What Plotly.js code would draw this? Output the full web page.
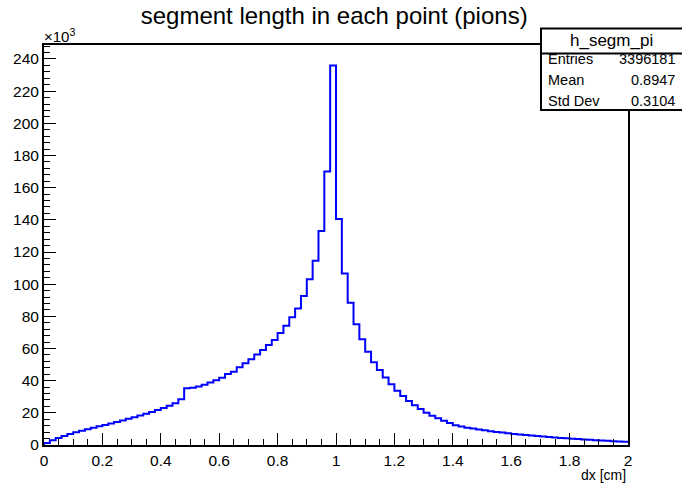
<!DOCTYPE html>
<html>
<head>
<meta charset="utf-8">
<script src="https://cdn.plot.ly/plotly-3.0.1.min.js"></script>
<style>body{margin:0;padding:0;background:#fff;} #chart{width:682px;height:484px;}</style>
</head>
<body>
<div id="chart"></div>
<script>
// histogram h_segm_pi: 100 bins from 0 to 2 (bin width 0.02), counts in thousands
const binLow = 0;
const binWidth = 0.02;
const counts = [
  1.3, 2.9, 4.3, 5.6, 6.8, 7.9, 8.9, 9.8, 10.7, 11.6,
  12.5, 13.4, 14.3, 15.3, 16.3, 17.3, 18.3, 19.4, 20.5, 21.7,
  23.0, 24.4, 26.0, 28.4, 35.3, 35.6, 36.3, 37.5, 38.8, 40.2,
  41.8, 44.2, 45.6, 48.3, 50.8, 53.3, 56.2, 59.1, 62.2, 65.3,
  69.6, 74.2, 79.4, 84.8, 92.7, 103.0, 114.6, 133.0, 170.0, 236.0,
  140.5, 106.7, 88.5, 75.0, 65.7, 58.0, 51.4, 46.6, 42.0, 37.7,
  33.8, 30.5, 27.4, 24.7, 22.4, 20.1, 18.2, 16.6, 15.1, 13.7,
  12.3, 11.5, 10.8, 10.2, 9.6, 9.1, 8.6, 8.1, 7.7, 7.3,
  6.9, 6.5, 6.2, 5.9, 5.6, 5.3, 5.0, 4.7, 4.4, 4.2,
  3.9, 3.7, 3.4, 3.2, 3.0, 2.8, 2.6, 2.4, 2.2, 2.0
];
const xTickVals = [0, 0.2, 0.4, 0.6, 0.8, 1, 1.2, 1.4, 1.6, 1.8, 2];
const xTickText = ["0", "0.2", "0.4", "0.6", "0.8", "1", "1.2", "1.4", "1.6", "1.8", "2"];
const yTickVals = [0, 20, 40, 60, 80, 100, 120, 140, 160, 180, 200, 220, 240];
const statsName = "h_segm_pi";
const statsLabels = ["Entries", "Mean", "Std Dev"];
const statsValues = ["3396181", "0.8947", "0.3104"];
const titleText = "segment length in each point (pions)";
const xTitle = "dx [cm]";

// build step outline from bin edges
const xs = [binLow], ys = [0];
for (let i = 0; i < counts.length; i++) {
  xs.push(binLow + i * binWidth);
  ys.push(counts[i]);
}
xs.push(binLow + counts.length * binWidth);
ys.push(counts[counts.length - 1]);

const FONT = "Liberation Sans, Arial, Helvetica, sans-serif";

const trace = {
  x: xs, y: ys, type: "scatter", mode: "lines",
  line: {shape: "hv", color: "#0000ff", width: 2},
  hoverinfo: "skip", showlegend: false
};

const annotations = [
  {text: "×10<sup>3</sup>", xref: "paper", yref: "paper", x: -0.004, y: 0.996, xanchor: "left", yanchor: "bottom",
   showarrow: false, font: {family: FONT, size: 15, color: "#000"}},
  {text: xTitle, xref: "paper", yref: "paper", x: 1, y: -0.075, xanchor: "right", yanchor: "middle",
   showarrow: false, font: {family: FONT, size: 14, color: "#000"}},
  {text: statsName, xref: "paper", yref: "paper", x: 0.971, y: 1.0125, xanchor: "center", yanchor: "middle",
   showarrow: false, font: {family: FONT, size: 17, color: "#000"}}
];
const rowY = [0.966, 0.9125, 0.86];
for (let i = 0; i < statsLabels.length; i++) {
  annotations.push({text: statsLabels[i], xref: "paper", yref: "paper", x: 0.8596, y: rowY[i],
    xanchor: "left", yanchor: "middle", showarrow: false, font: {family: FONT, size: 14.5, color: "#000"}});
  annotations.push({text: statsValues[i], xref: "paper", yref: "paper", x: 1.0839, y: rowY[i],
    xanchor: "right", yanchor: "middle", showarrow: false, font: {family: FONT, size: 14.5, color: "#000"}});
}

const layout = {
  width: 682, height: 484,
  margin: {l: 44, r: 54, t: 45, b: 39, pad: 0},
  paper_bgcolor: "#fff", plot_bgcolor: "#fff",
  title: {text: titleText, font: {family: FONT, size: 24, color: "#000"}, x: 0.49, xanchor: "center", y: 0.968, yanchor: "middle"},
  xaxis: {
    range: [0, 2], showgrid: false, zeroline: false,
    showline: true, linecolor: "#000", linewidth: 2, mirror: true,
    ticks: "inside", ticklen: 12, tickwidth: 1, tickcolor: "#000",
    tickvals: xTickVals, ticktext: xTickText,
    tickfont: {family: FONT, size: 15.5, color: "#000"},
    minor: {ticks: "inside", ticklen: 6, dtick: 0.05, tickcolor: "#000", tickwidth: 1, showgrid: false}
  },
  yaxis: {
    range: [0, 248.7], showgrid: false, zeroline: false,
    showline: true, linecolor: "#000", linewidth: 2, mirror: true,
    ticks: "inside", ticklen: 12, tickwidth: 1, tickcolor: "#000",
    tickvals: yTickVals,
    tickfont: {family: FONT, size: 15.5, color: "#000"},
    minor: {ticks: "inside", ticklen: 6, dtick: 4, tickcolor: "#000", tickwidth: 1, showgrid: false}
  },
  shapes: [
    {type: "rect", xref: "paper", yref: "paper", x0: 0.851, x1: 1.1, y0: 0.8375, y1: 1.041,
     line: {color: "#000", width: 2}, fillcolor: "#fff", layer: "above"},
    {type: "line", xref: "paper", yref: "paper", x0: 0.851, x1: 1.1, y0: 0.979, y1: 0.979,
     line: {color: "#000", width: 2}, layer: "above"}
  ],
  annotations: annotations
};

Plotly.newPlot("chart", [trace], layout, {staticPlot: true, displayModeBar: false});
</script>
</body>
</html>
